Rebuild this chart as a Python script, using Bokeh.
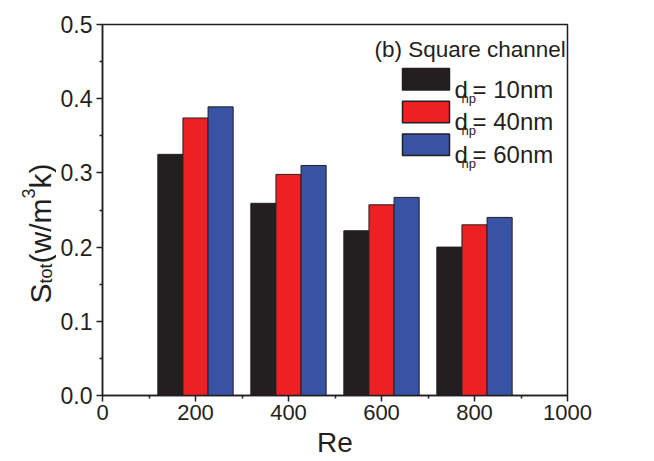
import math
from bokeh.plotting import figure
from bokeh.layouts import row
from bokeh.models import (Range1d, FixedTicker, PrintfTickFormatter, Label,
                          BoxAnnotation, ColumnDataSource)
from bokeh.transform import dodge
from bokeh.embed import file_html
from bokeh.resources import INLINE

# ---------------- data ----------------
re_values = [200, 400, 600, 800]
s_10nm = [0.325, 0.259, 0.222, 0.200]
s_40nm = [0.374, 0.298, 0.257, 0.230]
s_60nm = [0.389, 0.310, 0.267, 0.240]
series_names = ["10nm", "40nm", "60nm"]
series_colors = ["#231f20", "#ed2024", "#3953a4"]
x_ticks = [0, 200, 400, 600, 800, 1000]
y_ticks = [0.0, 0.1, 0.2, 0.3, 0.4, 0.5]
legend_title = "(b) Square channel"
x_title = "Re"
# y title as runs: (text, font size, baseline shift in px)
y_title_runs = [("S", 30, 0), ("tot", 18, 5), ("(w/m", 30, 0), ("3", 18, -12), ("k)", 30, 0)]

# ---------------- layout ----------------
FONT = "Liberation Sans"
INK = "#231f20"
TOTAL_W, H = 654, 461
LW = 56                       # width of the strip that holds the y title
W = TOTAL_W - LW
FL, FR, FT, FB = 102 - LW, 87, 24, 66
BAR_W = 54
X0, X1 = 0, 1000
Y0, Y1 = 0.0, 0.5

WID = {"S": 667, "t": 278, "o": 556, "(": 333, "w": 722, "/": 278, "m": 833,
       "k": 500, ")": 333, "3": 556}

def tw(text, size):
    return sum(WID.get(ch, 556) for ch in text) / 1000.0 * size

def py2y(py):
    return Y0 + ((H - FB) - py) / ((H - FB) - FT) * (Y1 - Y0)

# ---- strip with the rotated y title: same vertical mapping as the chart ----
lab = figure(width=LW, height=H, x_range=Range1d(0, LW), y_range=Range1d(Y0, Y1),
             output_backend="svg", toolbar_location=None,
             x_axis_location=None, y_axis_location=None,
             min_border_left=0, min_border_right=0,
             min_border_top=FT, min_border_bottom=FB)
lab.outline_line_color = None
lab.xgrid.visible = False
lab.ygrid.visible = False
lab.border_fill_color = "white"
lab.background_fill_color = "white"
ypos = 303
for text, size, off in y_title_runs:
    lab.add_layout(Label(x=40 + off, y=py2y(ypos), text=text, text_font=FONT,
                         text_font_size=f"{size}px", text_color=INK,
                         text_align="left", text_baseline="alphabetic",
                         angle=math.pi / 2))
    ypos -= tw(text, size)

# ---- main chart ----
p = figure(width=W, height=H, x_range=Range1d(X0, X1), y_range=Range1d(Y0, Y1),
           output_backend="svg", toolbar_location=None,
           min_border_left=FL, min_border_right=FR,
           min_border_top=FT, min_border_bottom=FB)
p.xgrid.visible = False
p.ygrid.visible = False
p.background_fill_color = "white"
p.border_fill_color = "white"
p.outline_line_color = INK
p.outline_line_width = 1.5

src = ColumnDataSource(dict(re=re_values, a=s_10nm, b=s_40nm, c=s_60nm))
for col, off, color in zip(["a", "b", "c"], [-BAR_W, 0, BAR_W], series_colors):
    p.vbar(x=dodge("re", off, range=p.x_range), top=col, width=BAR_W, bottom=0,
           source=src, fill_color=color, line_color=INK, line_width=1)

x_minor = [(a + b) / 2 for a, b in zip(x_ticks[:-1], x_ticks[1:])]
y_minor = [(a + b) / 2 for a, b in zip(y_ticks[:-1], y_ticks[1:])]
p.xaxis.ticker = FixedTicker(ticks=x_ticks, minor_ticks=x_minor)
p.yaxis.ticker = FixedTicker(ticks=y_ticks, minor_ticks=y_minor)
p.xaxis.formatter = PrintfTickFormatter(format="%d")
p.yaxis.formatter = PrintfTickFormatter(format="%.1f")
for ax in (p.xaxis, p.yaxis):
    ax.axis_line_color = INK
    ax.axis_line_width = 1.5
    ax.major_tick_line_color = INK
    ax.minor_tick_line_color = INK
    ax.major_tick_line_width = 1.5
    ax.minor_tick_line_width = 1.5
    ax.major_tick_out = 6
    ax.major_tick_in = 0
    ax.minor_tick_out = 3
    ax.minor_tick_in = 0
    ax.major_label_text_font = FONT
    ax.major_label_text_color = INK
    ax.axis_label_text_font = FONT
    ax.axis_label_text_font_style = "normal"
    ax.axis_label_text_color = INK
p.xaxis.major_label_text_font_size = "22px"
p.yaxis.major_label_text_font_size = "23px"
p.xaxis.major_label_standoff = 3
p.yaxis.major_label_standoff = 4
p.xaxis.axis_label = x_title
p.xaxis.axis_label_text_font_size = "28px"
p.xaxis.axis_label_standoff = 4

def px2x(px):
    return X0 + (px - LW - FL) / (W - FR - FL) * (X1 - X0)

def put(text, size, px, py, align="left"):
    p.add_layout(Label(x=px2x(px), y=py2y(py), text=text, text_font=FONT,
                       text_font_size=f"{size}px", text_color=INK,
                       text_align=align, text_baseline="alphabetic"))

put(legend_title, 22.5, 374, 49)
for i, (name, color) in enumerate(zip(series_names, series_colors)):
    top = 68 + 32.7 * i
    p.add_layout(BoxAnnotation(left=px2x(402), right=px2x(449),
                               top=py2y(top), bottom=py2y(top + 21.5),
                               fill_color=color, fill_alpha=1.0,
                               line_color=INK, line_width=1.5, line_alpha=1.0))
    base = top + 20.5
    put("d", 24, 454, base)
    put("np", 13, 461, base + 9)
    put("= " + name, 24, 472, base)

open("out.html", "w").write(file_html(row(lab, p), INLINE))
